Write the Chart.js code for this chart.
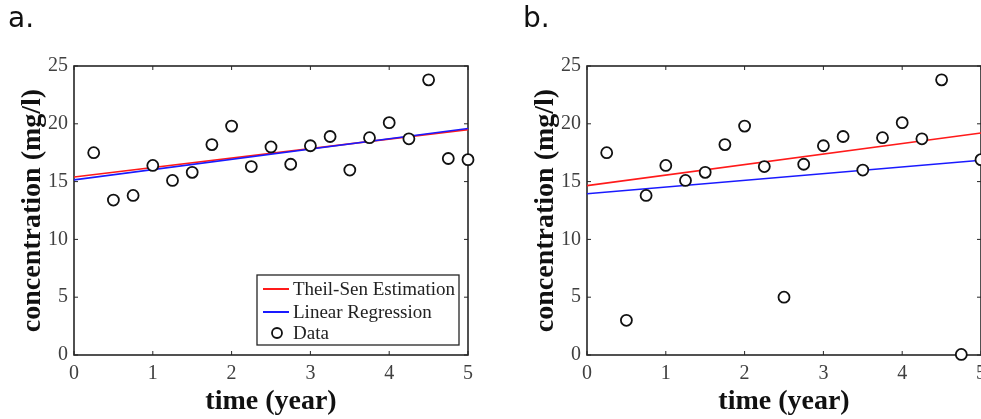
<!DOCTYPE html>
<html>
<head>
<meta charset="utf-8">
<script src="https://cdn.jsdelivr.net/npm/chart.js@4.4.1/dist/chart.umd.min.js"></script>
<style>
  html, body { margin: 0; padding: 0; background: #fff; }
  #page { position: relative; width: 981px; height: 419px; overflow: hidden; }
  .panel { position: absolute; top: 0; height: 419px; }
</style>
</head>
<body>
<div id="page">
  <div class="panel" style="left:0;width:490px"><canvas id="chartA" width="490" height="419"></canvas></div>
  <div class="panel" style="left:500px;width:481px"><canvas id="chartB" width="481" height="419"></canvas></div>
</div>
<script>
// sampling times (years)
const years = [0.25, 0.5, 0.75, 1.0, 1.25, 1.5, 1.75, 2.0, 2.25, 2.5,
               2.75, 3.0, 3.25, 3.5, 3.75, 4.0, 4.25, 4.5, 4.75, 5.0];

// panel a: clean data
const concA = [17.5, 13.4, 13.8, 16.4, 15.1, 15.8, 18.2, 19.8, 16.3, 18.0,
               16.5, 18.1, 18.9, 16.0, 18.8, 20.1, 18.7, 23.8, 17.0, 16.9];
// panel b: same data with three outliers
const concB = [17.5, 3.0, 13.8, 16.4, 15.1, 15.8, 18.2, 19.8, 16.3, 5.0,
               16.5, 18.1, 18.9, 16.0, 18.8, 20.1, 18.7, 23.8, 0.05, 16.9];

// fitted trend lines, at t = 0 and t = 5
const trendX = [0, 5];
const theilSenA = [15.4, 19.5];
const linRegA = [15.15, 19.6];
const theilSenB = [14.65, 19.2];
const linRegB = [13.95, 16.85];

const xTicks = [0, 1, 2, 3, 4, 5];
const yTicks = [0, 5, 10, 15, 20, 25];

const axisColor = '#262626';

function pts(xs, ys) {
    return xs.map((v, i) => ({ x: v, y: ys[i] }));
}

// MATLAB style box with inward ticks on all four sides
const boxPlugin = {
    id: 'matlabBox',
    beforeDatasetsDraw(chart) {
        const { ctx, chartArea: a, scales } = chart;
        ctx.save();
        ctx.strokeStyle = axisColor;
        ctx.lineWidth = 1.6;
        ctx.strokeRect(a.left, a.top, a.right - a.left, a.bottom - a.top);
        ctx.beginPath();
        xTicks.forEach(t => {
            const px = scales.x.getPixelForValue(t);
            ctx.moveTo(px, a.bottom); ctx.lineTo(px, a.bottom - 4);
            ctx.moveTo(px, a.top); ctx.lineTo(px, a.top + 4);
        });
        yTicks.forEach(t => {
            const py = scales.y.getPixelForValue(t);
            ctx.moveTo(a.left, py); ctx.lineTo(a.left + 4, py);
            ctx.moveTo(a.right, py); ctx.lineTo(a.right - 4, py);
        });
        ctx.lineWidth = 1;
        ctx.stroke();
        ctx.restore();
    },
    afterDraw(chart, args, opts) {
        const ctx = chart.ctx;
        ctx.save();
        ctx.fillStyle = '#111';
        ctx.font = '28px "DejaVu Sans"';
        ctx.textBaseline = 'alphabetic';
        ctx.fillText(opts.label, opts.labelX, 27);
        ctx.restore();
    }
};

// legend drawn inside the axes, lower right
const boxLegend = {
    id: 'boxLegend',
    afterDraw(chart, args, opts) {
        if (!opts.show) return;
        const { ctx, chartArea: a } = chart;
        const w = 202, h = 70;
        const left = a.right - 9 - w, top = a.bottom - 10 - h;
        ctx.save();
        ctx.fillStyle = '#fff';
        ctx.fillRect(left, top, w, h);
        ctx.strokeStyle = axisColor;
        ctx.lineWidth = 1.3;
        ctx.strokeRect(left, top, w, h);
        const rows = [14, 37, 58];
        ctx.font = '19px "Liberation Serif"';
        ctx.textBaseline = 'middle';
        opts.order.forEach((idx, r) => {
            const ds = chart.data.datasets[idx];
            const cy = top + rows[r];
            if (ds.showLine) {
                ctx.strokeStyle = ds.borderColor;
                ctx.lineWidth = 2;
                ctx.beginPath();
                ctx.moveTo(left + 6, cy); ctx.lineTo(left + 32, cy);
                ctx.stroke();
            } else {
                ctx.strokeStyle = ds.borderColor;
                ctx.fillStyle = '#fff';
                ctx.lineWidth = ds.borderWidth;
                ctx.beginPath();
                ctx.arc(left + 20, cy, 5, 0, Math.PI * 2);
                ctx.fill(); ctx.stroke();
            }
            ctx.fillStyle = '#222';
            ctx.fillText(ds.label, left + 36, cy + 1);
        });
        ctx.restore();
    }
};

function makeChart(canvasId, conc, ts, lr, geom) {
    const ctx = document.getElementById(canvasId).getContext('2d');
    return new Chart(ctx, {
        type: 'scatter',
        data: {
            datasets: [
                {
                    label: 'Data',
                    data: pts(years, conc),
                    pointStyle: 'circle',
                    pointRadius: 5.5,
                    pointHoverRadius: 5.5,
                    borderWidth: 1.8,
                    borderColor: '#111',
                    backgroundColor: '#fff',
                    showLine: false,
                    clip: false,
                    order: 0
                },
                {
                    label: 'Theil-Sen Estimation',
                    data: pts(trendX, ts),
                    showLine: true,
                    borderColor: '#ff1a1a',
                    borderWidth: 1.6,
                    pointRadius: 0,
                    order: 2
                },
                {
                    label: 'Linear Regression',
                    data: pts(trendX, lr),
                    showLine: true,
                    borderColor: '#1a1aff',
                    borderWidth: 1.6,
                    pointRadius: 0,
                    order: 1
                }
            ]
        },
        options: {
            responsive: false,
            devicePixelRatio: 1,
            animation: false,
            layout: {
                autoPadding: false,
                padding: { top: 66, right: geom.padRight, left: 0, bottom: 0 }
            },
            plugins: {
                legend: { display: false },
                tooltip: { enabled: false },
                matlabBox: { label: geom.label, labelX: geom.labelX },
                boxLegend: { show: geom.legend, order: [1, 2, 0] }
            },
            scales: {
                x: {
                    type: 'linear',
                    min: 0,
                    max: 5,
                    afterBuildTicks: s => { s.ticks = xTicks.map(v => ({ value: v })); },
                    afterFit: s => { s.height = 64; s.paddingLeft = 0; s.paddingRight = 0; },
                    grid: { display: false, drawTicks: false },
                    border: { display: false },
                    ticks: {
                        color: '#404040',
                        padding: 7,
                        maxRotation: 0,
                        font: { family: 'Liberation Serif', size: 20 }
                    },
                    title: {
                        display: true,
                        text: 'time (year)',
                        color: '#111',
                        padding: { top: 0, bottom: 0 },
                        font: { family: 'Liberation Serif', size: 28, weight: 'bold', lineHeight: 1.2 }
                    }
                },
                y: {
                    min: 0,
                    max: 25,
                    afterBuildTicks: s => { s.ticks = yTicks.map(v => ({ value: v })); },
                    afterFit: s => { s.width = geom.yWidth; s.paddingTop = 0; s.paddingBottom = 0; },
                    grid: { display: false, drawTicks: false },
                    border: { display: false },
                    ticks: {
                        color: '#404040',
                        padding: 6,
                        font: { family: 'Liberation Serif', size: 20 }
                    },
                    title: {
                        display: true,
                        text: 'concentration (mg/l)',
                        color: '#111',
                        padding: { top: geom.titlePad, bottom: 0 },
                        font: { family: 'Liberation Serif', size: 28, weight: 'bold', lineHeight: 1.2 }
                    }
                }
            }
        },
        plugins: [boxPlugin, boxLegend]
    });
}

makeChart('chartA', concA, theilSenA, linRegA,
    { padRight: 22, yWidth: 74, titlePad: 16, label: 'a.', labelX: 8, legend: true });
makeChart('chartB', concB, theilSenB, linRegB,
    { padRight: 0, yWidth: 87, titlePad: 29, label: 'b.', labelX: 23, legend: false });
</script>
</body>
</html>
